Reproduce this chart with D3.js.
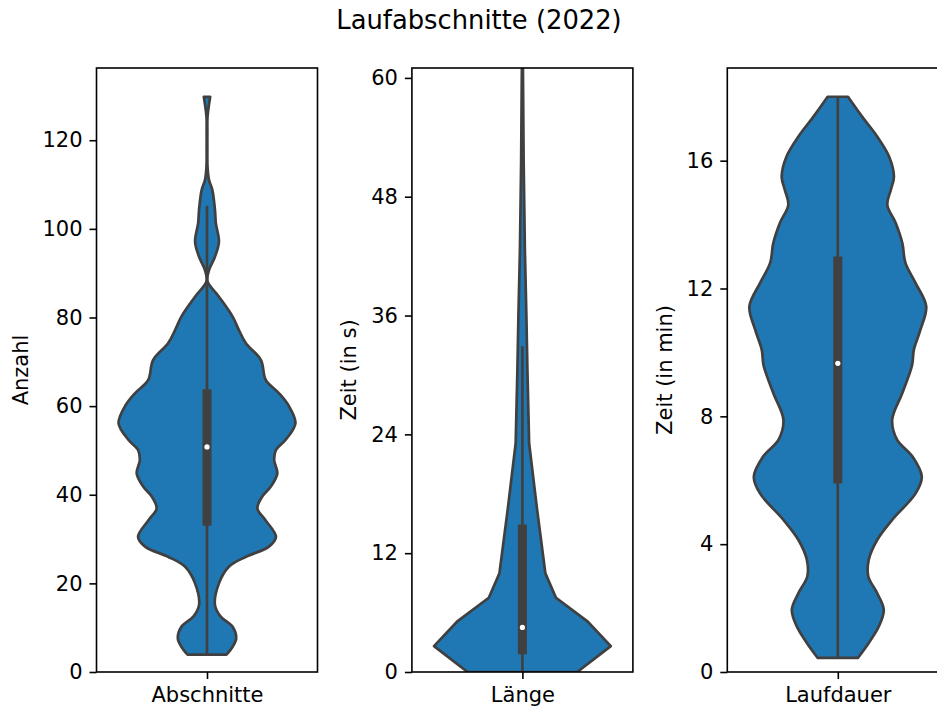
<!DOCTYPE html>
<html>
<head>
<meta charset="utf-8">
<script src="https://cdn.jsdelivr.net/npm/d3@7"></script>
<style>
  body { margin: 0; background: #fff; }
  svg text { font-family: "DejaVu Sans", sans-serif; fill: #000; }
</style>
</head>
<body>
<svg id="chart" width="937" height="709"></svg>
<script>
// panel categories and axis texts
const categories = ["Abschnitte", "Länge", "Laufdauer"];
const yLabels = ["Anzahl", "Zeit (in s)", "Zeit (in min)"];
const yMax = [136.3, 61.0, 18.9];
const yTicks = [
  [0, 20, 40, 60, 80, 100, 120],
  [0, 12, 24, 36, 48, 60],
  [0, 4, 8, 12, 16]
];

// density profiles: [value, relative width]
const densAbschnitte = [
  [3.9, 0.22], [5.7, 0.29], [7.6, 0.33], [10.2, 0.29], [12.5, 0.155], [15.1, 0.09],
  [20, 0.135], [23.8, 0.25], [26, 0.44], [28.3, 0.70], [30.5, 0.78], [34.3, 0.66],
  [36.9, 0.57], [39.6, 0.625], [41.8, 0.72], [44.8, 0.795], [47.8, 0.76], [50.1, 0.78],
  [52.4, 0.89], [56.1, 1.0], [59.9, 0.93], [62.9, 0.815], [65.9, 0.665], [70.4, 0.61],
  [74.2, 0.44], [77.2, 0.36], [80.2, 0.29], [84.7, 0.135], [88.2, 0.005], [90.7, 0.023],
  [93.7, 0.09], [97.1, 0.135], [101.3, 0.1], [104.3, 0.09], [108.8, 0.06], [111, 0.023],
  [114, 0.006], [118, 0.004], [122, 0.004], [125.3, 0.006], [129.8, 0.036]
];
const densLaenge = [
  [0, 0.62], [2.62, 1.0], [5.08, 0.74], [7.5, 0.38], [9.96, 0.26], [16.5, 0.165],
  [23.1, 0.076], [30.4, 0.057], [36, 0.045], [42.6, 0.028], [51.7, 0.014], [61, 0.006],
  [70, 0.004]
];
const densLaufdauer = [
  [0.44, 0.227], [0.91, 0.35], [1.43, 0.465], [1.95, 0.52], [2.47, 0.445], [2.99, 0.345],
  [3.51, 0.35], [4.13, 0.445], [4.76, 0.615], [5.59, 0.88], [6.11, 0.95], [6.74, 0.845],
  [7.27, 0.67], [7.89, 0.615], [8.73, 0.73], [9.6, 0.84], [10.08, 0.86], [10.71, 0.935],
  [11.44, 1.0], [12.17, 0.88], [12.8, 0.765], [13.42, 0.73], [14.05, 0.655], [14.62, 0.56],
  [15.09, 0.6], [15.5, 0.635], [16.13, 0.58], [16.76, 0.445], [17.38, 0.275], [18.0, 0.115]
];
const densities = [densAbschnitte, densLaenge, densLaufdauer];

// box stats: [whisker low, q1, median, q3, whisker high]
const boxStats = [
  [3.9, 33.0, 50.8, 63.8, 105.2],
  [0, 1.8, 4.5, 14.9, 32.9],
  [0.44, 5.9, 9.66, 13.0, 18.0]
];

const svg = d3.select('#chart');
const fillCol = '#1f77b4';
const lineCol = '#404040';
const plotTop = 68, plotBottom = 672, panelW = 221, panelStep = 315.4, firstLeft = 96.5;

svg.append('text')
  .attr('x', 479).attr('y', 29)
  .attr('text-anchor', 'middle')
  .style('font-size', '25.8px')
  .text('Laufabschnitte (2022)');

categories.forEach((cat, i) => {
  const left = firstLeft + i * panelStep;
  const x = d3.scaleLinear().domain([-0.5, 0.5]).range([left, left + panelW]);
  const y = d3.scaleLinear().domain([0, yMax[i]]).range([plotBottom, plotTop]);
  const half = x(0.4) - x(0);
  const g = svg.append('g');

  g.append('clipPath').attr('id', 'clip' + i)
    .append('rect')
    .attr('x', left).attr('y', plotTop).attr('width', panelW).attr('height', plotBottom - plotTop);

  const plot = g.append('g').attr('clip-path', `url(#clip${i})`);

  const area = d3.area()
    .y(d => y(d[0]))
    .x0(d => x(0) - d[1] * half)
    .x1(d => x(0) + d[1] * half)
    .curve(i === 1 ? d3.curveLinear : d3.curveCatmullRom.alpha(0.5));

  plot.append('path')
    .attr('d', area(densities[i]))
    .style('fill', fillCol)
    .style('stroke', lineCol)
    .style('stroke-width', 2.7)
    .style('stroke-linejoin', 'round');

  const b = boxStats[i];
  plot.append('line')
    .attr('x1', x(0)).attr('x2', x(0))
    .attr('y1', y(b[0])).attr('y2', y(b[4]))
    .style('stroke', lineCol).style('stroke-width', 2.7);
  plot.append('line')
    .attr('x1', x(0)).attr('x2', x(0))
    .attr('y1', y(b[1])).attr('y2', y(b[3]))
    .style('stroke', lineCol).style('stroke-width', 9);
  plot.append('circle')
    .attr('cx', x(0)).attr('cy', y(b[2])).attr('r', 2.6)
    .style('fill', '#fff');

  // axes
  const yAxis = g.append('g')
    .attr('transform', `translate(${left},0)`)
    .call(d3.axisLeft(y).tickValues(yTicks[i]).tickSize(7).tickPadding(7).tickFormat(d3.format('d')));
  const xAxis = g.append('g')
    .attr('transform', `translate(0,${plotBottom})`)
    .call(d3.axisBottom(x).tickValues([0]).tickSize(7).tickPadding(8).tickFormat(() => cat));
  [yAxis, xAxis].forEach(a => {
    a.select('.domain').remove();
    a.selectAll('line').style('stroke', '#000').style('stroke-width', 1.6);
    a.selectAll('text').style('font-size', '21px').style('fill', '#000');
  });

  g.append('rect')
    .attr('x', left).attr('y', plotTop).attr('width', panelW).attr('height', plotBottom - plotTop)
    .style('fill', 'none').style('stroke', '#000').style('stroke-width', 1.6);

  const labelX = left - (i === 0 ? 76 : 63);
  g.append('text')
    .attr('transform', `translate(${labelX},${(plotTop + plotBottom) / 2}) rotate(-90)`)
    .attr('text-anchor', 'middle')
    .attr('dy', '0.35em')
    .style('font-size', '21px')
    .text(yLabels[i]);
});
</script>
</body>
</html>
